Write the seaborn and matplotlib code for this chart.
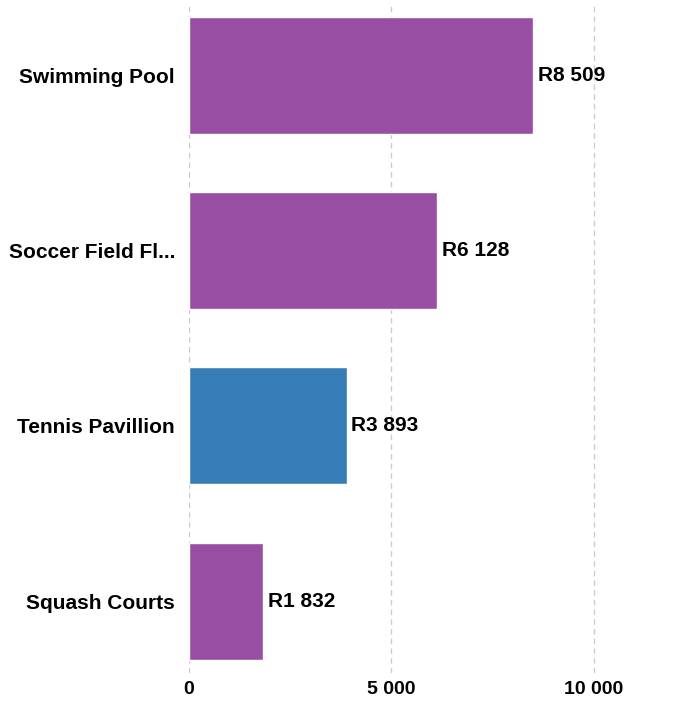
import pandas as pd
import seaborn as sns
import matplotlib.pyplot as plt
from matplotlib.ticker import FuncFormatter

categories = ['Swimming Pool', 'Soccer Field Fl...', 'Tennis Pavillion', 'Squash Courts']
values = [8509, 6128, 3893, 1832]
bar_colors = ['#984EA3', '#984EA3', '#377EB8', '#984EA3']
x_ticks = [0, 5000, 10000]

df = pd.DataFrame({'category': categories, 'value': values})


def thousands(v, pos=None):
    return f'{int(v):,}'.replace(',', ' ')


sns.set_style('white')
plt.rcParams['font.family'] = ['Liberation Sans', 'DejaVu Sans']

fig = plt.figure(figsize=(6.99, 7.03), dpi=100)
ax = fig.add_axes([189 / 699, 30 / 703, 1 - 189 / 699, 668 / 703])

sns.barplot(data=df, x='value', y='category', hue='category',
            palette=bar_colors, legend=False, width=0.667,
            saturation=1, ax=ax, zorder=2)

ax.set_xlim(0, 12600)
ax.set_ylim(3.41, -0.4)
ax.set_xticks(x_ticks)
ax.xaxis.set_major_formatter(FuncFormatter(thousands))
ax.grid(axis='x', color='#cccccc', linestyle=(0, (4, 3)), linewidth=1, zorder=0)
ax.grid(axis='y', visible=False)
ax.set_axisbelow(True)
for s in ax.spines.values():
    s.set_visible(False)

ax.tick_params(axis='x', length=2, color='#f58518', pad=4, labelsize=14,
               labelcolor='black')
ax.tick_params(axis='y', length=0, pad=10, labelsize=15, labelcolor='black')
for lbl in ax.get_xticklabels() + ax.get_yticklabels():
    lbl.set_fontweight('bold')

for i, v in enumerate(values):
    ax.text(v + 120, i, 'R' + thousands(v), va='center', ha='left',
            fontsize=15, fontweight='bold', color='black')

ax.set_xlabel('')
ax.set_ylabel('')

plt.savefig('out.png', dpi=100)
